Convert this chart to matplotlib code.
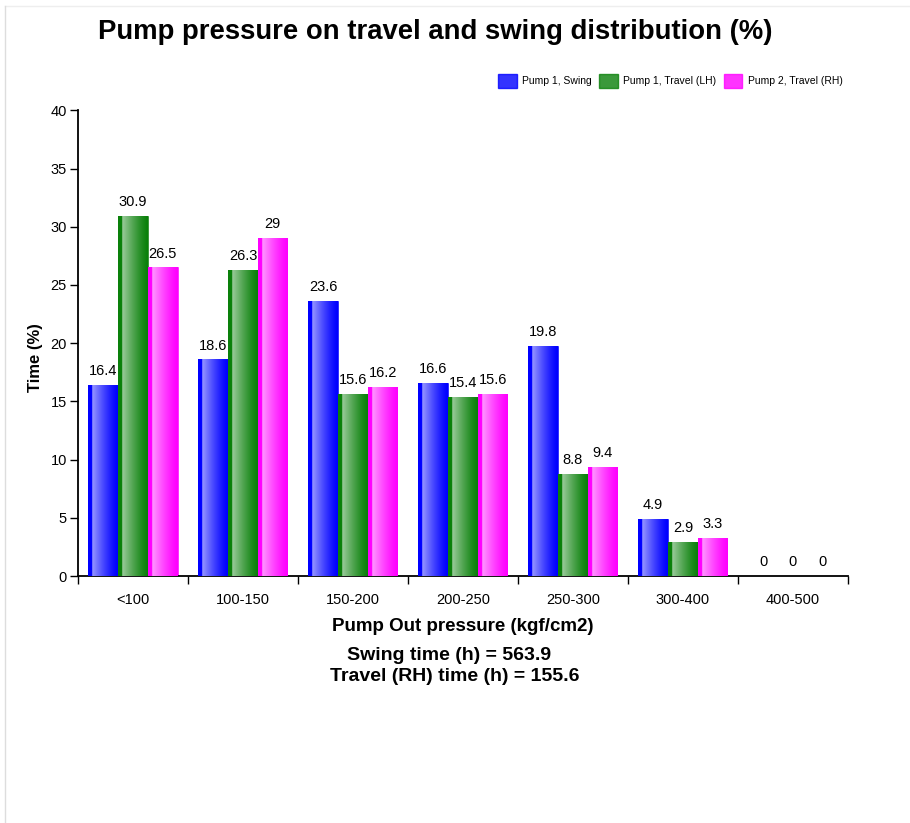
import matplotlib.pyplot as plt
import numpy as np
from matplotlib.colors import to_rgb
from matplotlib.patches import Patch
from matplotlib.lines import Line2D

plt.rcParams['font.family'] = ['Liberation Sans', 'DejaVu Sans']

categories = ["<100", "100-150", "150-200", "200-250", "250-300", "300-400", "400-500"]
swing = [16.4, 18.6, 23.6, 16.6, 19.8, 4.9, 0]
travel_lh = [30.9, 26.3, 15.6, 15.4, 8.8, 2.9, 0]
travel_rh = [26.5, 29, 16.2, 15.6, 9.4, 3.3, 0]
series_names = ["Pump 1, Swing", "Pump 1, Travel (LH)", "Pump 2, Travel (RH)"]
series_colors = ["#0000ff", "#0a800a", "#ff00ff"]
swing_hours = 563.9
travel_rh_hours = 155.6


def gradient_image(color):
    base = np.array(to_rgb(color))
    t = np.linspace(0, 1, 64)
    rows = []
    for v in t:
        if v < 0.13:
            rows.append(base)
        else:
            k = (v - 0.13) / 0.87
            mix = 0.6 * (1 - k) ** 1.3
            rows.append(base * (1 - mix) + np.ones(3) * mix)
    return np.array(rows)[np.newaxis, :, :]


fig = plt.figure(figsize=(9.1, 8.23), dpi=100)
ax = fig.add_axes([0.0857, 0.300, 0.846, 0.566])

x = np.arange(len(categories))
width = 0.27
all_series = [swing, travel_lh, travel_rh]

for i, (vals, color) in enumerate(zip(all_series, series_colors)):
    offs = (i - 1) * width
    bars = ax.bar(x + offs, vals, width, color=color, edgecolor=color,
                  linewidth=0.4, zorder=2)
    img = gradient_image(color)
    for b, v in zip(bars, vals):
        if v > 0:
            x0 = b.get_x()
            im = ax.imshow(img, extent=[x0, x0 + b.get_width(), 0, v],
                           aspect='auto', zorder=3, interpolation='bilinear')
            im.set_clip_path(b)
        ax.annotate(f"{v:g}", (b.get_x() + b.get_width() / 2, v),
                    xytext=(0, 5), textcoords='offset points',
                    ha='center', va='bottom', fontsize=10.5, zorder=4)

ax.set_xlim(-0.5, len(categories) - 0.5)
ax.set_ylim(0, 40)
ax.set_yticks(range(0, 41, 5))
ax.set_xticks(x)
ax.set_xticklabels(categories)
ax.set_xticks(np.arange(-0.5, len(categories), 1), minor=True)
ax.tick_params(axis='x', which='major', length=0, pad=12, labelsize=10.5)
ax.tick_params(axis='x', which='minor', length=6, width=1)
ax.tick_params(axis='y', length=6, width=1, labelsize=10.5, pad=2)
ax.spines['top'].set_visible(False)
ax.spines['right'].set_visible(False)
ax.spines['left'].set_linewidth(1.3)
ax.spines['bottom'].set_linewidth(1.3)

ax.set_xlabel("Pump Out pressure (kgf/cm2)", fontsize=13.5, fontweight='bold', labelpad=8)
ax.set_ylabel("Time (%)", fontsize=12, fontweight='bold')
ax.yaxis.set_label_coords(-0.046, 0.47)

fig.text(0.478, 0.961, "Pump pressure on travel and swing distribution (%)",
         ha='center', va='center', fontsize=19.8, fontweight='bold')

fig.text(0.494, 0.203, f"Swing time (h) = {swing_hours}",
         ha='center', va='center', fontsize=14, fontweight='bold')
fig.text(0.5, 0.178, f"Travel (RH) time (h) = {travel_rh_hours}",
         ha='center', va='center', fontsize=14, fontweight='bold')

handles = [Patch(facecolor=c, edgecolor=c, alpha=0.8) for c in series_colors]
fig.legend(handles, series_names, loc='center right', bbox_to_anchor=(0.936, 0.902),
           ncol=3, fontsize=7.5, frameon=False, handlelength=1.8, handleheight=1.7,
           handletextpad=0.5, columnspacing=0.7)

fig.add_artist(Line2D([0.006, 1], [0.993, 0.993], color='#eeeeee', lw=1))
fig.add_artist(Line2D([0.006, 0.006], [0, 0.993], color='#dddddd', lw=1))

fig.savefig("out.png", dpi=100)
